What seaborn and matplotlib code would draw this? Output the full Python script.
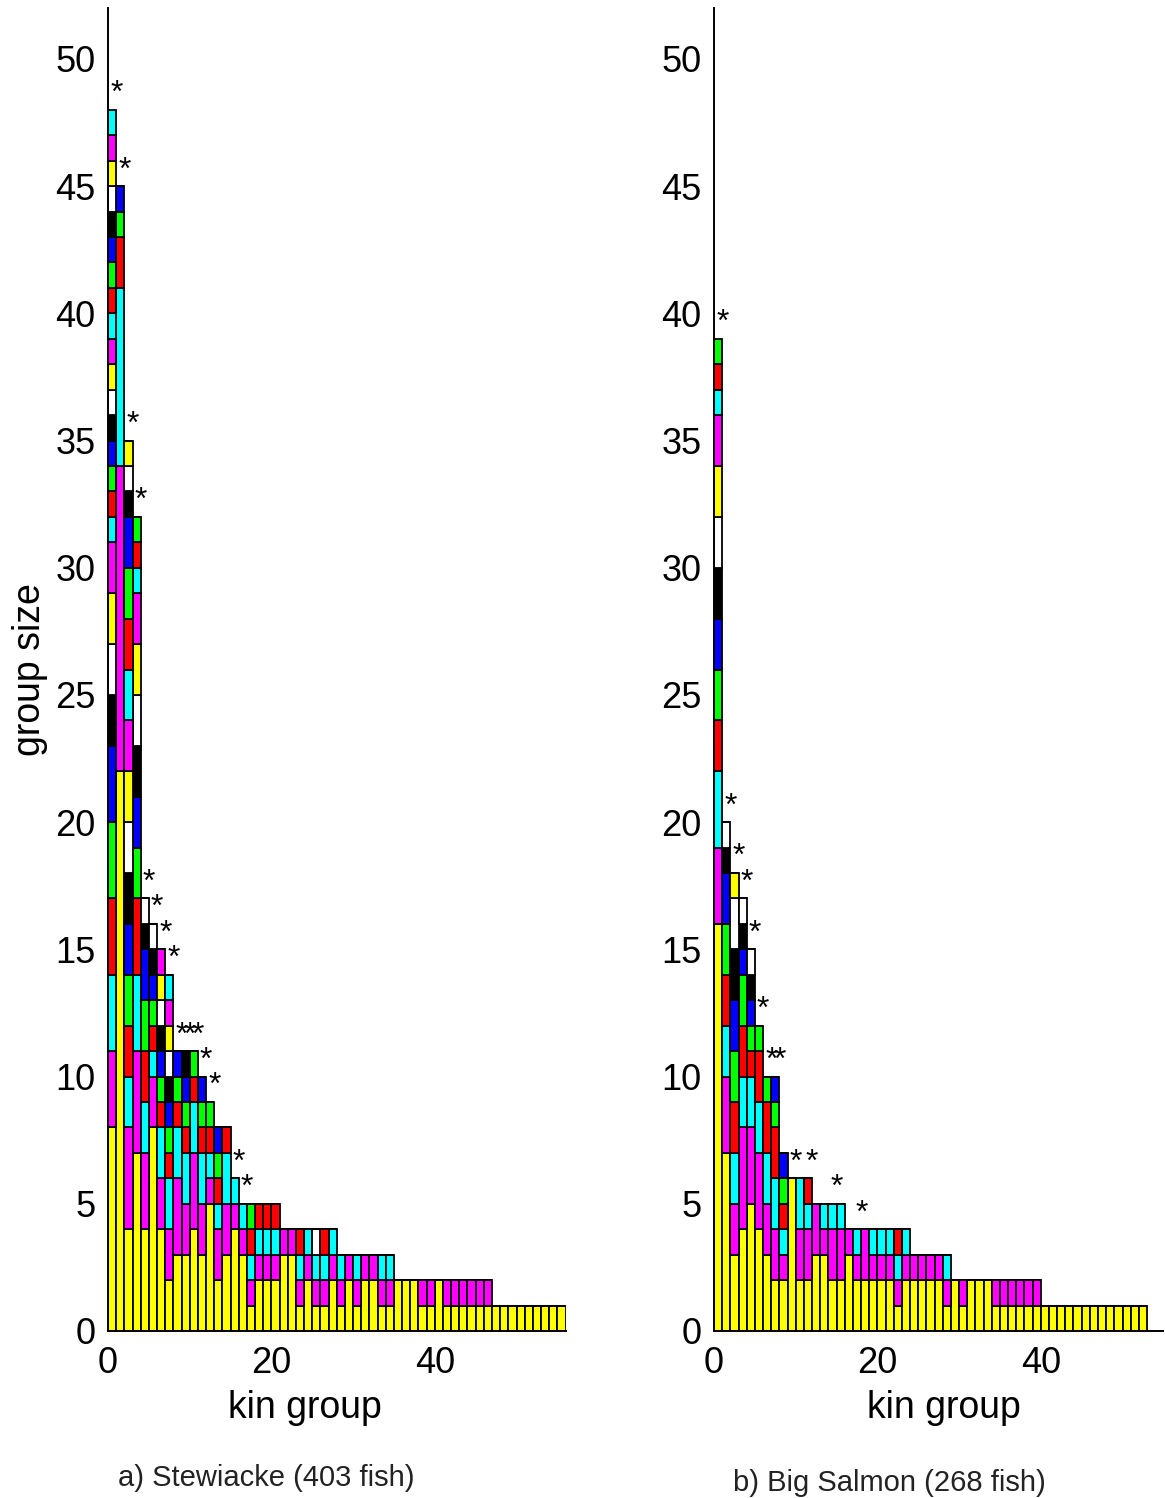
import numpy as np
import pandas as pd
import matplotlib
matplotlib.use("Agg")
import matplotlib.pyplot as plt
import seaborn as sns

sns.set_style("white")
plt.rcParams["font.family"] = ["Liberation Sans", "DejaVu Sans"]
plt.rcParams["text.color"] = "black"
plt.rcParams["axes.labelcolor"] = "black"

# ---------------- data ----------------
# family sizes within each kin group, listed bottom to top
stew_groups = [
    [8, 3, 3, 3, 3, 3, 2, 2, 2, 2] + [1] * 17,
    [22, 12, 7, 2, 1, 1],
    [4, 4] + [2] * 12 + [1, 1, 1],
    [7, 4, 3, 3, 2, 2, 2, 2, 2, 2, 1, 1, 1],
    [4, 3, 2, 2, 2, 2, 1, 1],
    [8, 2, 1, 1, 1, 1, 1, 1],
    [4, 2, 2, 1, 1, 1, 1, 1, 1, 1],
    [2, 2, 2, 1, 1, 1, 1, 1, 1, 1, 1],
    [3, 3, 2, 1, 1, 1],
    [3, 2, 2, 1, 1, 1, 1],
    [4, 3, 2, 1, 1],
    [3, 2, 2, 1, 1, 1],
    [5, 1, 1, 1, 1],
    [2, 2, 1, 1, 1, 1],
    [3, 2, 2, 1],
    [4, 1, 1],
    [3, 1, 1],
    [1, 1, 1, 1, 1],
    [2, 1, 1, 1],
    [2, 1, 1, 1],
    [2, 1, 1, 1],
    [3, 1],
    [3, 1],
    [1, 1, 1, 1],
    [2, 1, 1],
    [1, 1, 1, 1],
    [1, 1, 1, 1],
    [2, 1, 1],
    [1, 1, 1],
    [2, 1],
    [1, 1, 1],
    [2, 1],
    [2, 1],
    [1, 1, 1],
    [1, 1, 1],
    [2], [2], [2],
    [1, 1], [1, 1],
    [2],
    [1, 1], [1, 1], [1, 1], [1, 1], [1, 1], [1, 1],
    [1], [1], [1], [1], [1], [1], [1], [1], [1],
]
stew_color_override = {26: "ymcw"}
stew_starred = [1, 2, 3, 4, 5, 6, 7, 8, 9, 10, 11, 12, 13, 16, 17]

salmon_groups = [
    [16, 3, 3, 2, 2, 2, 2, 2, 2, 2, 1, 1, 1],
    [7, 3, 2, 2, 2, 2, 1, 1],
    [3, 2, 2, 2, 2, 2, 2, 2, 1],
    [4, 4, 2, 2, 2, 1, 1, 1],
    [5, 3, 2, 1, 1, 1, 1, 1],
    [4, 3, 2, 2, 1],
    [3, 2, 2, 2, 1],
    [2, 2, 2, 2, 1, 1],
    [2, 1, 1, 1, 1, 1],
    [6],
    [2, 2, 2],
    [2, 2, 1, 1],
    [3, 2],
    [3, 1, 1],
    [2, 2, 1],
    [2, 2, 1],
    [3, 1],
    [2, 1, 1],
    [2, 2],
    [2, 1, 1], [2, 1, 1], [2, 1, 1],
    [1, 1, 1, 1],
    [2, 1, 1],
    [2, 1], [2, 1], [2, 1], [2, 1],
    [1, 1, 1],
    [2],
    [1, 1],
    [2], [2], [2],
    [1, 1], [1, 1], [1, 1], [1, 1], [1, 1], [1, 1],
] + [[1]] * 13
salmon_color_override = {}
salmon_starred = [1, 2, 3, 4, 5, 6, 7, 8, 10, 12, 15, 18]

color_cycle = "ymcrgbkw"
color_names = {"y": "#ffff00", "m": "#ff00ff", "c": "#00ffff", "r": "#ff0000",
               "g": "#00ff00", "b": "#0000ff", "k": "#000000", "w": "#ffffff"}

panel_titles = ["a) Stewiacke (403 fish)", "b) Big Salmon (268 fish)"]
x_ticks = [0, 20, 40]
y_ticks = list(range(0, 51, 5))


def build(groups, overrides):
    rows = []
    for k, segs in enumerate(groups, start=1):
        codes = overrides.get(k, "".join(color_cycle[i % 8] for i in range(len(segs))))
        for i, (s, c) in enumerate(zip(segs, codes)):
            rows.append(dict(x=k - 0.5, size=s, level=f"{i:02d}{c}"))
    return pd.DataFrame(rows)


W, H = 1165, 1498
fig = plt.figure(figsize=(W / 100, H / 100), dpi=100)

panels = [
    (stew_groups, stew_color_override, stew_starred, 108, 56.0),
    (salmon_groups, salmon_color_override, salmon_starred, 714, 55.0),
]
axes = []
for groups, over, starred, x0px, xmax in panels:
    ax = fig.add_axes([x0px / W, (H - 1331) / H, xmax * 8.17 / W, 1323 / H])
    df = build(groups, over)
    levels = sorted(df["level"].unique())
    pal = {lv: color_names[lv[2]] for lv in levels}
    sns.histplot(data=df, x="x", weights="size", hue="level",
                 hue_order=levels[::-1], palette=pal, multiple="stack",
                 binwidth=1, binrange=(0, len(groups)), shrink=1, alpha=1,
                 edgecolor="black", linewidth=1.3, legend=False, ax=ax)
    heights = [sum(g) for g in groups]
    for k in starred:
        ax.text(k + 0.02, heights[k - 1] + 0.3, "*", ha="center", va="baseline",
                fontsize=23, color="black")
    ax.set_xlim(0, xmax)
    ax.set_ylim(0, 52)
    ax.set_xticks(x_ticks)
    ax.set_yticks(y_ticks)
    ax.set_xlabel("")
    ax.set_ylabel("")
    ax.set_axisbelow(True)
    ax.tick_params(direction="in", length=9, width=1.2, labelsize=26, colors="black")
    ax.tick_params(axis="x", pad=11)
    ax.tick_params(axis="y", pad=9)
    for side in ["top", "right"]:
        ax.spines[side].set_visible(False)
    for side in ["left", "bottom"]:
        ax.spines[side].set_linewidth(1.4)
        ax.spines[side].set_color("black")
    axes.append(ax)

fig.text(30 / W, 1 - 670 / H, "group size", rotation=90, ha="center", va="center",
         fontsize=27, color="black")
fig.text(305 / W, 1 - 1408 / H, "kin group", ha="center", va="center", fontsize=27, color="black")
fig.text(944 / W, 1 - 1408 / H, "kin group", ha="center", va="center", fontsize=27, color="black")
fig.text(266 / W, 1 - 1478 / H, panel_titles[0], ha="center", va="center", fontsize=21,
         color="#222222")
fig.text(889 / W, 1 - 1483 / H, panel_titles[1], ha="center", va="center", fontsize=21,
         color="#222222")

fig.savefig("out.png", dpi=100)
